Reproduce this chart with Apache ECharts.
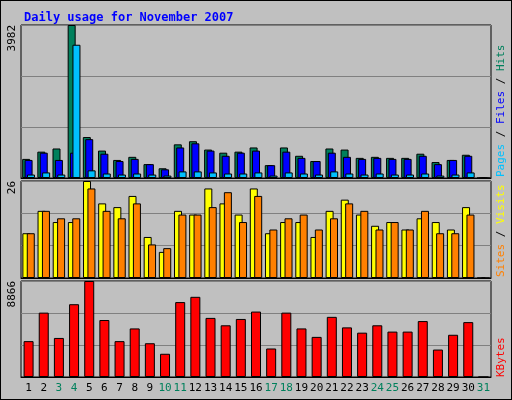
<!DOCTYPE html>
<html>
<head>
<meta charset="utf-8">
<script src="https://cdn.jsdelivr.net/npm/echarts@6/dist/echarts.min.js"></script>
<style>
  html, body { margin: 0; padding: 0; background: #c0c0c0; }
  #chart { width: 510px; height: 398px; border: 1px solid #000; }
</style>
</head>
<body>
<div id="chart"></div>
<script>
var days = ['1','2','3','4','5','6','7','8','9','10','11','12','13','14','15','16','17','18','19','20','21','22','23','24','25','26','27','28','29','30','31'];
var weekend = ['3','4','10','11','17','18','24','25','31'];
var hits = [497,686,768,3982,1066,713,470,551,361,253,876,957,740,659,686,795,334,795,578,442,768,740,524,551,524,524,632,415,470,605,0];
var files = [470,659,470,659,1011,632,442,497,361,226,795,903,713,578,659,713,334,686,524,442,659,551,497,524,497,497,578,361,470,578,0];
var pages = [90,145,90,3468,199,117,90,117,90,63,172,172,145,117,117,145,63,145,117,90,172,117,90,117,90,90,117,63,90,145,0];
var visits = [12,18,15,15,26,20,19,22,11,7,18,17,24,20,17,24,12,15,15,11,18,21,17,14,15,13,16,15,13,19,0];
var sites = [12,18,16,16,24,18,16,20,9,8,17,17,19,23,15,22,13,16,17,13,16,20,18,13,15,13,18,12,12,17,0];
var kbytes = [3313,5945,3607,6723,8866,5263,3313,4485,3118,2145,6918,7405,5458,4776,5360,6043,2633,5945,4485,3705,5555,4583,4095,4776,4193,4193,5165,2535,3900,5068,0];

var FONT = 'DejaVu Sans Mono';
var chart = echarts.init(document.getElementById('chart'));

var grids = [
  { left: 20, right: 20, top: 24, height: 153 },
  { left: 20, right: 20, top: 180, height: 97 },
  { left: 20, right: 20, top: 280, height: 96 }
];

function yAxisFor(idx, max) {
  return {
    gridIndex: idx, type: 'value', min: 0, max: max, interval: max / 3,
    axisLine: { show: false }, axisTick: { show: false },
    splitLine: { lineStyle: { color: '#808080', width: 1 } },
    axisLabel: {
      rotate: 90, fontFamily: FONT, fontSize: 11, color: '#000', margin: 9,
      formatter: function (v) { return v >= max * 0.99 ? String(max) : ''; },
      verticalAlign: 'middle', align: 'right'
    }
  };
}

function xAxisFor(idx, showLabels) {
  return {
    gridIndex: idx, type: 'category', data: days,
    axisLine: { lineStyle: { color: '#000' } }, axisTick: { show: false },
    axisLabel: {
      show: showLabels, fontFamily: FONT, fontSize: 11, margin: 6, interval: 0,
      color: function (v) { return weekend.indexOf(v) >= 0 ? '#00805c' : '#000'; }
    }
  };
}

var barBorder = { borderColor: '#000', borderWidth: 1 };

// right-hand vertical legends, read bottom to top
function legendText(x, yBottom, parts) {
  var rich = {}, txt = '';
  parts.forEach(function (p, i) {
    rich['c' + i] = { fill: p[1], fontFamily: FONT, fontSize: 11 };
    txt += '{c' + i + '|' + p[0] + '}';
  });
  return {
    type: 'text', x: x, y: yBottom, rotation: Math.PI / 2,
    style: { text: txt, rich: rich, fontFamily: FONT, fontSize: 11 }
  };
}

chart.setOption({
  backgroundColor: '#c0c0c0',
  animation: false,
  grid: grids.map(function (g) { return Object.assign({ show: true, backgroundColor: '#c0c0c0', borderColor: '#000', borderWidth: 1 }, g); }),
  title: {
    text: 'Daily usage for November 2007', left: 18, top: 6,
    textStyle: { color: '#0000ff', fontFamily: FONT, fontSize: 12, fontWeight: 'bold' }
  },
  xAxis: [xAxisFor(0, false), xAxisFor(1, false), xAxisFor(2, true)],
  yAxis: [yAxisFor(0, 3982), yAxisFor(1, 26), yAxisFor(2, 8866)],
  graphic: [
    legendText(495, 176, [['Pages', '#00c0ff'], [' / ', '#000'], ['Files', '#0000ff'], [' / ', '#000'], ['Hits', '#00805c']]),
    legendText(495, 276, [['Sites', '#ff8000'], [' / ', '#000'], ['Visits', '#ffff00']]),
    legendText(495, 376, [['KBytes', '#ff0000']])
  ],
  series: [
    { name: 'Hits', type: 'bar', xAxisIndex: 0, yAxisIndex: 0, data: hits, barWidth: 8, barGap: '-70%',
      itemStyle: Object.assign({ color: '#00805c' }, barBorder) },
    { name: 'Files', type: 'bar', xAxisIndex: 0, yAxisIndex: 0, data: files, barWidth: 8, barGap: '-70%',
      itemStyle: Object.assign({ color: '#0000ff' }, barBorder) },
    { name: 'Pages', type: 'bar', xAxisIndex: 0, yAxisIndex: 0, data: pages, barWidth: 8, barGap: '-70%',
      itemStyle: Object.assign({ color: '#00c0ff' }, barBorder) },
    { name: 'Visits', type: 'bar', xAxisIndex: 1, yAxisIndex: 1, data: visits, barWidth: 8, barGap: '-45%',
      itemStyle: Object.assign({ color: '#ffff00' }, barBorder) },
    { name: 'Sites', type: 'bar', xAxisIndex: 1, yAxisIndex: 1, data: sites, barWidth: 8, barGap: '-45%',
      itemStyle: Object.assign({ color: '#ff8000' }, barBorder) },
    { name: 'KBytes', type: 'bar', xAxisIndex: 2, yAxisIndex: 2, data: kbytes, barWidth: 10,
      itemStyle: Object.assign({ color: '#ff0000' }, barBorder) }
  ]
});
</script>
</body>
</html>
